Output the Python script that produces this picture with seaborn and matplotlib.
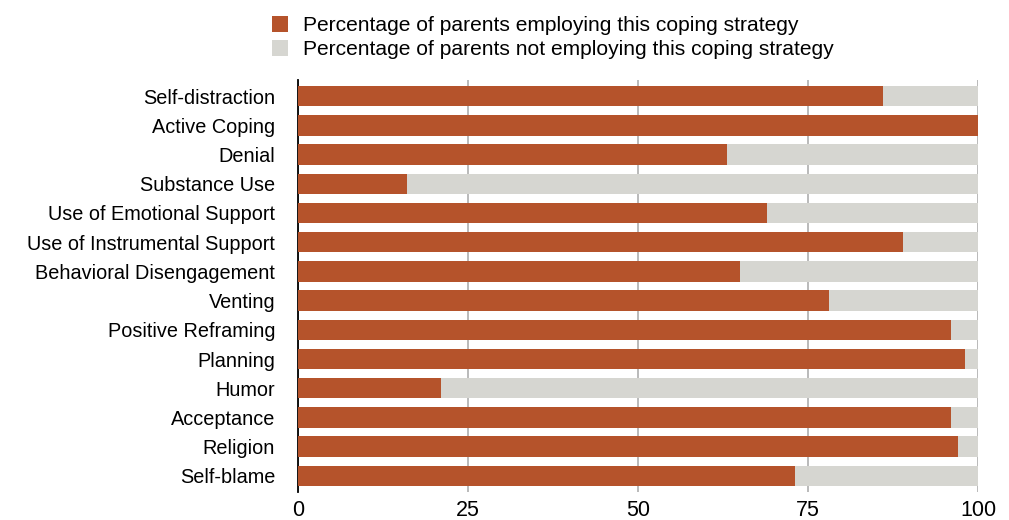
import numpy as np
import pandas as pd
import matplotlib
matplotlib.use("Agg")
import matplotlib.pyplot as plt
from matplotlib.patches import Patch
import seaborn as sns

strategies = ["Self-distraction", "Active Coping", "Denial", "Substance Use",
              "Use of Emotional Support", "Use of Instrumental Support",
              "Behavioral Disengagement", "Venting", "Positive Reframing",
              "Planning", "Humor", "Acceptance", "Religion", "Self-blame"]
employing = [86, 100, 63, 16, 69, 89, 65, 78, 96, 98, 21, 96, 97, 73]
not_employing = [100 - v for v in employing]
x_ticks = [0, 25, 50, 75, 100]

label_yes = "Percentage of parents employing this coping strategy"
label_no = "Percentage of parents not employing this coping strategy"

wood = "#b5532b"
stone = "#d6d6d1"

df = pd.DataFrame({"strategy": strategies,
                   "employing": employing,
                   "not_employing": not_employing})
df["total"] = df["employing"] + df["not_employing"]

sns.set_style("white")
plt.rcParams["font.family"] = ["Liberation Sans", "DejaVu Sans"]
plt.rcParams["text.color"] = "black"

fig = plt.figure(figsize=(10.09, 5.2), dpi=100)
ax = fig.add_axes([0.2955, 0.054, 0.674, 0.792])

sns.barplot(data=df, x="total", y="strategy", color=stone, width=0.7,
            saturation=1, edgecolor="none", ax=ax, zorder=2)
sns.barplot(data=df, x="employing", y="strategy", color=wood, width=0.7,
            saturation=1, edgecolor="none", ax=ax, zorder=3)

ax.set_xlim(0, 100)
ax.set_ylim(len(strategies) - 0.45, -0.55)
ax.set_xticks(x_ticks)
ax.set_xticklabels([str(t) for t in x_ticks], fontsize=15.5, color="black")
ax.tick_params(axis="y", labelsize=14.3, labelcolor="black", length=0, pad=16.5)
ax.tick_params(axis="x", length=0, pad=6)
ax.set_xlabel("")
ax.set_ylabel("")
ax.grid(axis="x", color="#b4b4b4", linewidth=1.3, zorder=0)
ax.set_axisbelow(True)
for side in ["top", "right", "bottom"]:
    ax.spines[side].set_visible(False)
ax.spines["left"].set_color("black")
ax.spines["left"].set_linewidth(1.3)

handles = [Patch(facecolor=wood, edgecolor="none", label=label_yes),
           Patch(facecolor=stone, edgecolor="none", label=label_no)]
leg = fig.legend(handles=handles, loc="upper left", bbox_to_anchor=(0.2615, 0.985),
                 frameon=False, fontsize=15.1, handlelength=0.75, handleheight=0.75,
                 handletextpad=0.7, labelspacing=0.25, borderaxespad=0)
for t in leg.get_texts():
    t.set_color("black")

fig.savefig("out.png", dpi=100)
